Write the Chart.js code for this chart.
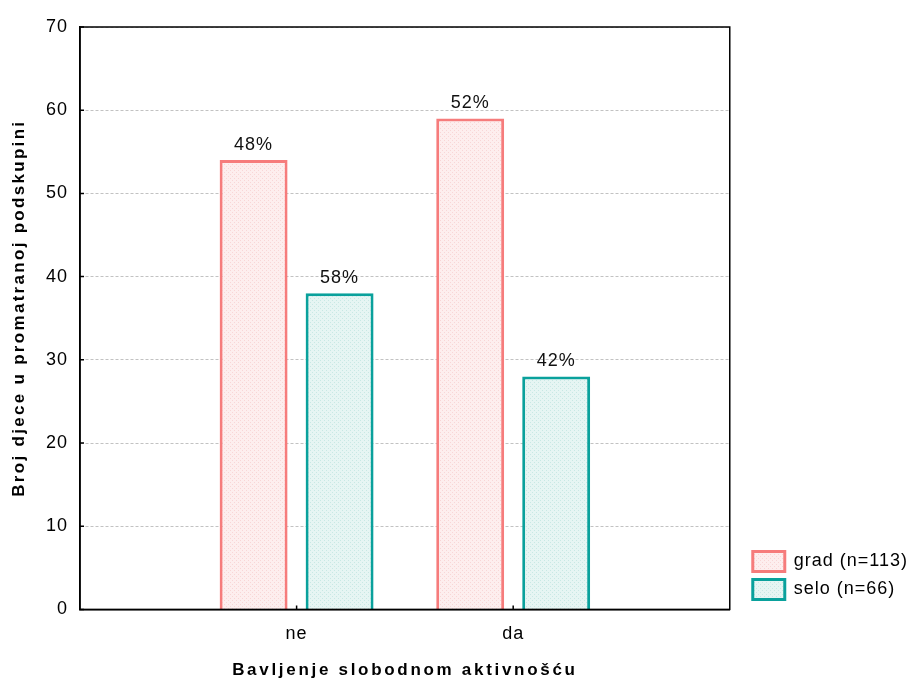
<!DOCTYPE html>
<html>
<head>
<meta charset="utf-8">
<script src="https://cdn.jsdelivr.net/npm/chart.js@4/dist/chart.umd.min.js"></script>
<style>
  body { margin: 0; background: #fff; }
  #wrap { width: 917px; height: 682px; }
</style>
</head>
<body>
<div id="wrap"><canvas id="myChart" width="917" height="682"></canvas></div>
<script>
// data
var categories = ['ne', 'da'];
var gradValues = [54, 59];
var seloValues = [38, 28];
var gradPct = ['48%', '52%'];
var seloPct = ['58%', '42%'];
var yTicks = [0, 10, 20, 30, 40, 50, 60, 70];
var xTitle = 'Bavljenje slobodnom aktivnošću';
var yTitle = 'Broj djece u promatranoj podskupini';

// empty slots left and right, so the two groups sit at 1/3 and 2/3 of the width
var labels = [''].concat(categories, ['']);
function pad(arr) { return [null].concat(arr, [null]); }

var FONT = '"Liberation Sans", Arial, sans-serif';

function dotted(base, dot) {
  var p = document.createElement('canvas');
  p.width = 4; p.height = 4;
  var c = p.getContext('2d');
  c.fillStyle = base;
  c.fillRect(0, 0, 4, 4);
  c.fillStyle = dot;
  c.fillRect(0, 0, 1, 1);
  c.fillRect(2, 2, 1, 1);
  return document.getElementById('myChart').getContext('2d').createPattern(p, 'repeat');
}

// the original's text is a little wider spaced than plain Arial
var spacing = {
  id: 'spacing',
  beforeLayout: function(chart) { chart.ctx.letterSpacing = '1px'; },
  beforeDraw: function(chart) { chart.ctx.letterSpacing = '1px'; }
};

// move the legend a bit away from the plot frame
var legendShift = {
  id: 'legendShift',
  afterLayout: function(chart) {
    var l = chart.legend;
    l.left += 15; l.right += 15;
    l.top -= 2; l.bottom -= 2;
  }
};

var frame = {
  id: 'frame',
  afterDraw: function(chart) {
    var a = chart.chartArea, c = chart.ctx;
    var xs = chart.scales.x, ys = chart.scales.y;
    c.save();
    c.strokeStyle = '#000';
    c.lineWidth = 1.5;
    c.strokeRect(a.left, a.top, a.right - a.left, a.bottom - a.top);
    // small inward tick marks
    c.beginPath();
    yTicks.forEach(function(v) {
      var y = ys.getPixelForValue(v);
      c.moveTo(a.left, y); c.lineTo(a.left + 4, y);
    });
    categories.forEach(function(cat, i) {
      var x = xs.getPixelForValue(i + 1);
      c.moveTo(x, a.bottom); c.lineTo(x, a.bottom - 4);
    });
    c.stroke();

    // axis titles
    c.fillStyle = '#000';
    c.font = 'bold 17px ' + FONT;
    c.textAlign = 'center';
    c.textBaseline = 'middle';
    c.letterSpacing = '2.7px';
    c.fillText(xTitle, (a.left + a.right) / 2, 670);
    c.letterSpacing = '2.3px';
    c.translate(19, (a.top + a.bottom) / 2 - 10);
    c.rotate(-Math.PI / 2);
    c.fillText(yTitle, 0, 0);
    c.restore();
  }
};

var pctLabels = {
  id: 'pctLabels',
  afterDatasetsDraw: function(chart) {
    var c = chart.ctx;
    var texts = [pad(gradPct), pad(seloPct)];
    c.save();
    c.font = '18px ' + FONT;
    c.fillStyle = '#111';
    c.textAlign = 'center';
    c.textBaseline = 'bottom';
    chart.data.datasets.forEach(function(ds, i) {
      chart.getDatasetMeta(i).data.forEach(function(bar, j) {
        if (texts[i][j]) c.fillText(texts[i][j], bar.x, bar.y - 6);
      });
    });
    c.restore();
  }
};

function chartOnLoad() {
  var ctx = document.getElementById('myChart');
  new Chart(ctx, {
    type: 'bar',
    data: {
      labels: labels,
      datasets: [{
        label: 'grad (n=113)',
        data: pad(gradValues),
        backgroundColor: dotted('#fdeeee', '#f8d6d6'),
        borderColor: '#f67c7c',
        borderWidth: 3,
        categoryPercentage: 0.794,
        barPercentage: 0.79
      }, {
        label: 'selo (n=66)',
        data: pad(seloValues),
        backgroundColor: dotted('#e6f5f3', '#c8e8e4'),
        borderColor: '#0aa19c',
        borderWidth: 3,
        categoryPercentage: 0.794,
        barPercentage: 0.79
      }]
    },
    options: {
      responsive: false,
      animation: false,
      layout: { padding: { top: 27, right: 14, left: 34, bottom: 31 } },
      plugins: {
        tooltip: { enabled: false },
        legend: {
          position: 'right',
          align: 'end',
          fullSize: false,
          labels: {
            boxWidth: 32,
            boxHeight: 20,
            padding: 8,
            color: '#000',
            font: { size: 18, family: FONT }
          }
        }
      },
      scales: {
        x: {
          offset: false,
          grid: { display: false },
          border: { display: true, color: '#000', width: 1.5 },
          ticks: {
            color: '#000',
            padding: 6,
            autoSkip: false,
            maxRotation: 0,
            font: { size: 18, family: FONT }
          }
        },
        y: {
          min: 0,
          max: 70,
          afterBuildTicks: function(axis) {
            axis.ticks = yTicks.map(function(v) { return { value: v }; });
          },
          grid: { color: '#c2c2c2', lineWidth: 1, drawTicks: false },
          border: { display: true, color: '#000', width: 1.5, dash: [3, 2] },
          ticks: {
            color: '#000',
            padding: 12,
            font: { size: 18, family: FONT }
          }
        }
      }
    },
    plugins: [spacing, legendShift, frame, pctLabels]
  });
}

window.onload = chartOnLoad;
</script>
</body>
</html>
